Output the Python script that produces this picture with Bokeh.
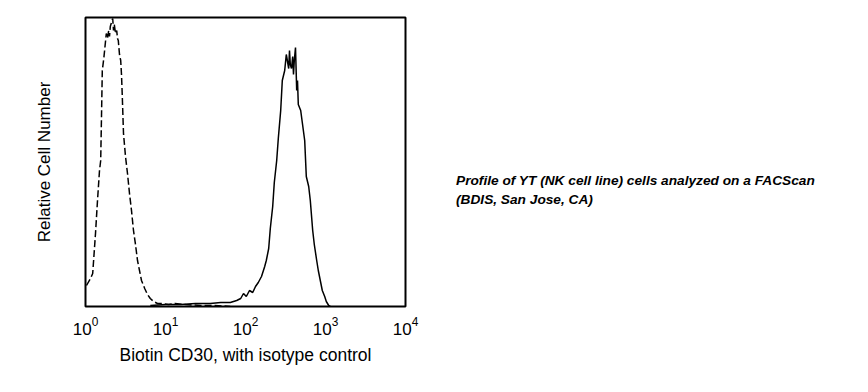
from bokeh.plotting import figure
from bokeh.models import FixedTicker, Div
from bokeh.layouts import row
from bokeh.embed import file_html
from bokeh.resources import INLINE

# isotype control (dashed): log10 fluorescence, relative cell number
iso_log = [0.0125, 0.0625, 0.09, 0.125, 0.15, 0.175, 0.19, 0.20, 0.21, 0.23, 0.25, 0.26,
           0.275, 0.29, 0.30, 0.31, 0.325, 0.34, 0.35, 0.36, 0.375, 0.39, 0.40, 0.41,
           0.425, 0.44, 0.45, 0.46, 0.475, 0.50, 0.525, 0.55, 0.575, 0.60, 0.625, 0.65,
           0.675, 0.70, 0.74, 0.775, 0.81, 0.85, 0.90, 0.96, 1.04, 1.12, 1.25, 1.44,
           1.62, 1.81]
iso_cnt = [21, 28, 33, 73, 106, 136, 146, 190, 236, 249, 265, 273,
           268, 276, 270, 280, 284, 288, 276, 282, 273, 276, 268, 266,
           252, 246, 232, 210, 173, 150, 133, 113, 96, 76, 62, 46,
           36, 26, 18, 12, 8, 5, 3, 3, 2, 3, 2, 1,
           1, 0]

# Biotin CD30 (solid)
cd30_log = [0.81, 1.0, 1.19, 1.375, 1.56, 1.69, 1.81, 1.89, 1.94, 1.975, 2.01, 2.05,
            2.09, 2.125, 2.16, 2.2, 2.24, 2.26, 2.29, 2.31, 2.34, 2.36, 2.39, 2.41,
            2.44, 2.46, 2.49, 2.51, 2.54, 2.55, 2.56, 2.575, 2.59, 2.60, 2.61, 2.625,
            2.64, 2.65, 2.66, 2.69, 2.71, 2.74, 2.76, 2.79, 2.81, 2.84, 2.86, 2.89,
            2.91, 2.94, 2.96, 2.99, 3.01, 3.04, 3.06]
cd30_cnt = [1, 2, 2, 3, 3, 4, 4, 6, 8, 13, 10, 16,
            14, 20, 24, 30, 40, 46, 58, 78, 100, 124, 146, 168,
            196, 226, 236, 252, 238, 256, 242, 238, 250, 232, 246, 259,
            216, 226, 202, 196, 184, 166, 130, 120, 106, 76, 62, 46,
            36, 24, 16, 10, 5, 1, 0]

tick_values = [1, 10, 100, 1000, 10000]
x_label = "Biotin CD30, with isotype control"
y_label = "Relative Cell Number"
note_lines = ["Profile of YT (NK cell line) cells analyzed on a FACScan",
              "(BDIS, San Jose, CA)"]

FONT = "Liberation Sans"

p = figure(width=425, height=376, x_axis_type="log", x_range=(1, 1e4), y_range=(0, 289),
           output_backend="svg", toolbar_location=None,
           min_border_left=85, min_border_top=17, min_border_right=20, min_border_bottom=70)
p.grid.visible = False
p.background_fill_color = "white"
p.border_fill_color = "white"
p.outline_line_color = "black"
p.outline_line_width = 2

p.line([10 ** v for v in iso_log], iso_cnt, line_color="black", line_width=1.5,
       line_dash="7 3")
p.line([10 ** v for v in cd30_log], cd30_cnt, line_color="black", line_width=1.5)

p.xaxis.ticker = FixedTicker(ticks=tick_values)
p.xaxis.axis_line_color = None
p.xaxis.major_tick_line_color = None
p.xaxis.minor_tick_line_color = None
p.xaxis.major_label_text_font = FONT
p.xaxis.major_label_text_font_size = "17px"
p.xaxis.major_label_text_color = "black"
p.xaxis.major_label_standoff = 4
p.xaxis.axis_label = x_label
p.xaxis.axis_label_text_font = FONT
p.xaxis.axis_label_text_font_size = "17.5px"
p.xaxis.axis_label_text_font_style = "normal"
p.xaxis.axis_label_text_color = "black"
p.xaxis.axis_label_standoff = 7

p.yaxis.axis_line_color = None
p.yaxis.major_tick_line_color = None
p.yaxis.minor_tick_line_color = None
p.yaxis.major_label_text_color = None
p.yaxis.major_label_text_font_size = "1px"
p.yaxis.axis_label = y_label
p.yaxis.axis_label_text_font = FONT
p.yaxis.axis_label_text_font_size = "17px"
p.yaxis.axis_label_text_font_style = "normal"
p.yaxis.axis_label_text_color = "black"
p.yaxis.axis_label_standoff = 26

note_html = "<br>".join(note_lines)
note = Div(text=note_html, width=427, height=376, margin=(0, 0, 0, 0),
           styles={"font-family": FONT, "font-size": "13.7px", "font-weight": "bold",
                   "font-style": "italic", "color": "black", "line-height": "19px",
                   "padding-left": "31px", "padding-top": "171px"})

layout = row(p, note)
open("out.html", "w").write(file_html(layout, INLINE))
